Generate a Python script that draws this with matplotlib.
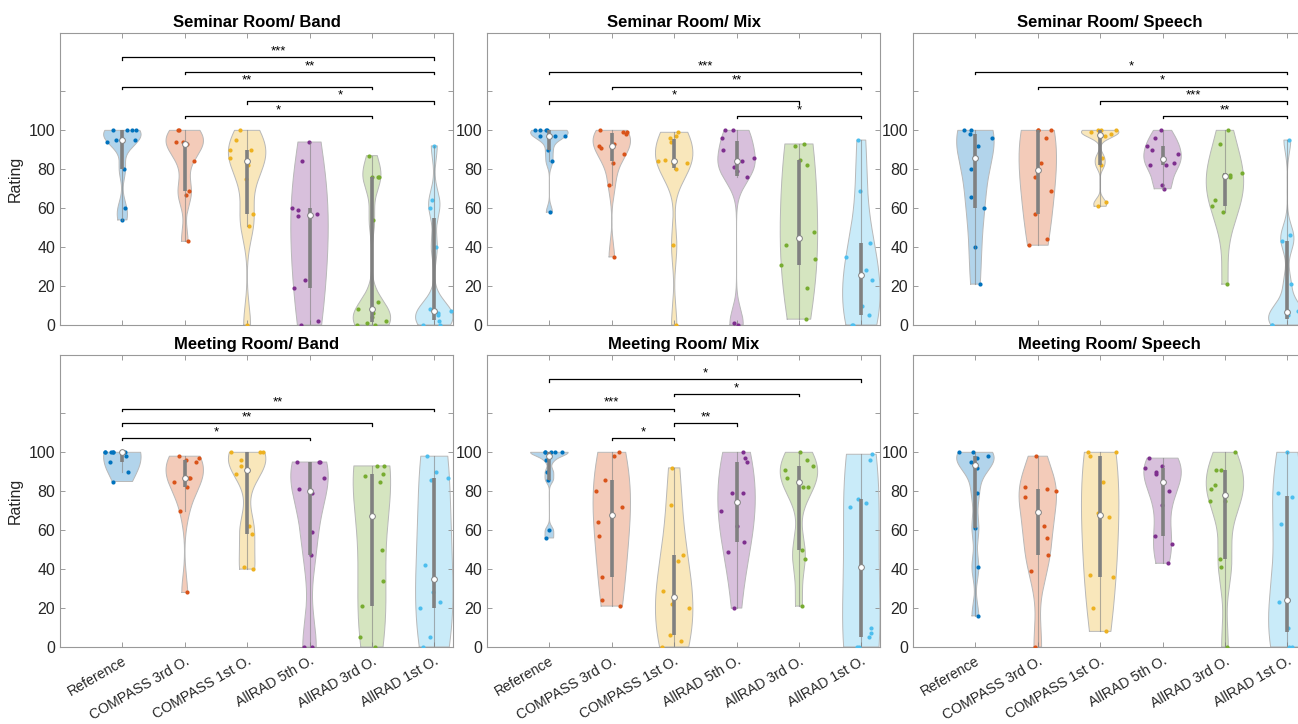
import numpy as np
import matplotlib.pyplot as plt

plt.rcParams['font.family'] = ['Liberation Sans', 'DejaVu Sans']

# group names and MATLAB default line colours
labels = ["Reference", "COMPASS 3rd O.", "COMPASS 1st O.",
          "AllRAD 5th O.", "AllRAD 3rd O.", "AllRAD 1st O."]
colors = ["#0072BD", "#D95319", "#EDB120", "#7E2F8E", "#77AC30", "#4DBEEE"]

titles = ["Seminar Room/ Band", "Seminar Room/ Mix", "Seminar Room/ Speech",
          "Meeting Room/ Band", "Meeting Room/ Mix", "Meeting Room/ Speech"]

# ratings, one list per condition
seminar_band = [
    [100, 100, 100, 100, 95, 95, 94, 80, 60, 54],
    [100, 100, 94, 94, 93, 93, 84, 69, 67, 43],
    [100, 95, 90, 90, 86, 82, 75, 57, 51, 0],
    [94, 84, 60, 59, 57, 56, 23, 19, 2, 0],
    [87, 76, 76, 76, 54, 12, 8, 6, 4, 2, 1, 0, 0],
    [92, 64, 60, 40, 8, 7, 6, 5, 2, 0, 0],
]
seminar_mix = [
    [100, 100, 100, 100, 97, 97, 97, 90, 84, 58],
    [100, 99, 99, 98, 93, 92, 91, 88, 83, 72, 35],
    [99, 97, 96, 94, 85, 84, 83, 83, 80, 41, 0],
    [100, 100, 96, 90, 86, 84, 81, 79, 76, 1, 0],
    [93, 92, 85, 82, 48, 41, 34, 31, 19, 3],
    [95, 69, 42, 35, 28, 23, 10, 5, 0, 0],
]
seminar_speech = [
    [100, 100, 98, 96, 92, 80, 66, 60, 40, 21],
    [100, 100, 100, 96, 83, 76, 69, 57, 44, 41],
    [100, 100, 100, 99, 98, 97, 86, 82, 63, 61],
    [100, 96, 92, 90, 88, 83, 82, 82, 72, 70],
    [100, 93, 78, 77, 77, 76, 64, 61, 58, 21],
    [95, 46, 43, 21, 7, 6, 5, 3, 0, 0],
]
meeting_band = [
    [100, 100, 100, 100, 100, 100, 98, 95, 90, 85],
    [98, 97, 96, 95, 87, 87, 85, 82, 70, 28],
    [100, 100, 100, 96, 93, 89, 62, 58, 41, 40],
    [95, 95, 95, 87, 81, 79, 59, 47, 0, 0],
    [93, 93, 89, 88, 85, 50, 34, 21, 5, 0],
    [98, 90, 87, 86, 42, 28, 23, 20, 5, 0],
]
meeting_mix = [
    [100, 100, 100, 100, 100, 96, 90, 86, 60, 56],
    [100, 98, 86, 80, 72, 64, 57, 36, 24, 21],
    [92, 73, 47, 44, 29, 22, 20, 6, 3, 0],
    [100, 97, 95, 79, 79, 70, 62, 54, 49, 20],
    [100, 96, 93, 91, 87, 82, 82, 50, 45, 21],
    [99, 96, 76, 74, 72, 10, 7, 5, 0, 0],
]
meeting_speech = [
    [100, 100, 98, 97, 95, 92, 79, 61, 41, 16],
    [98, 82, 81, 80, 77, 62, 56, 47, 39, 0],
    [100, 100, 98, 85, 69, 67, 37, 36, 20, 8],
    [97, 93, 92, 90, 89, 80, 73, 57, 53, 43],
    [100, 91, 91, 83, 81, 75, 75, 45, 41, 0],
    [100, 79, 77, 63, 24, 23, 10, 0, 0],
]

# significance brackets (group a, group b, stars), lowest bracket first
sig_seminar_band = [(2, 5, "*"), (3, 6, "*"), (1, 5, "**"), (2, 6, "**"), (1, 6, "***")]
sig_seminar_mix = [(4, 6, "*"), (1, 5, "*"), (2, 6, "**"), (1, 6, "***")]
sig_seminar_speech = [(4, 6, "**"), (3, 6, "***"), (2, 6, "*"), (1, 6, "*")]
sig_meeting_band = [(1, 4, "*"), (1, 5, "**"), (1, 6, "**")]
sig_meeting_mix = [(2, 3, "*"), (3, 4, "**"), (1, 3, "***"), (3, 5, "*"), (1, 6, "*")]
sig_meeting_speech = []

panels = [seminar_band, seminar_mix, seminar_speech,
          meeting_band, meeting_mix, meeting_speech]
sigs = [sig_seminar_band, sig_seminar_mix, sig_seminar_speech,
        sig_meeting_band, sig_meeting_mix, sig_meeting_speech]

rng = np.random.default_rng(7)  # only for horizontal jitter of the dots
gray = (0.5, 0.5, 0.5)


def ks_bandwidth(x):
    # same rule as MATLAB ksdensity
    sig = np.median(np.abs(x - np.median(x))) / 0.6745
    if sig <= 0:
        sig = x.max() - x.min()
    return sig * (4 / (3 * len(x))) ** 0.2


def violin(ax, pos, data, color, half_width=0.3):
    x = np.asarray(data, dtype=float)
    bw = ks_bandwidth(x)
    ys = np.linspace(x.min(), x.max(), 200)
    dens = np.exp(-0.5 * ((ys[:, None] - x[None, :]) / bw) ** 2).sum(axis=1)
    dens = dens / dens.max() * half_width

    # body
    ax.fill(np.concatenate([pos - dens, (pos + dens)[::-1]]),
            np.concatenate([ys, ys[::-1]]),
            facecolor=color, alpha=0.3, edgecolor="none", zorder=1)
    ax.plot(np.concatenate([pos - dens, (pos + dens)[::-1], [pos - dens[0]]]),
            np.concatenate([ys, ys[::-1], [ys[0]]]),
            color=(0.72, 0.72, 0.72), lw=0.7, zorder=2)

    # jittered points
    spread = np.interp(x, ys, dens)
    jit = (2 * rng.random(len(x)) - 1) * spread
    ax.scatter(pos + jit, x, s=9, color=color, linewidths=0, zorder=3)

    # whisker, box and median
    q1, med, q3 = np.percentile(x, [25, 50, 75], method="hazen")
    iqr = q3 - q1
    lo = x[x >= q1 - 1.5 * iqr].min()
    hi = x[x <= q3 + 1.5 * iqr].max()
    ax.plot([pos, pos], [lo, hi], color=gray, lw=0.8, alpha=0.6, zorder=4)
    ax.plot([pos, pos], [q1, q3], color=gray, lw=2.6, solid_capstyle="butt", zorder=4)
    ax.scatter([pos], [med], s=17, facecolor="white", edgecolor=gray,
               linewidths=0.7, zorder=5)


def bracket(ax, a, b, level, stars):
    ax.plot([a, a, b, b], [level - 1.3, level, level, level - 1.3],
            color="black", lw=0.9, zorder=6)
    ax.text((a + b) / 2, level - 0.2, stars, ha="center", va="bottom",
            fontsize=9.5, color="black")


fig = plt.figure(figsize=(12.98, 7.24), dpi=100)

lefts = [0.0462, 0.3752, 0.7034]
bottoms = [0.5511, 0.1064]
w, h = 0.3028, 0.4033

for k in range(6):
    row, col = divmod(k, 3)
    ax = fig.add_axes([lefts[col], bottoms[row], w, h])
    for i, data in enumerate(panels[k]):
        violin(ax, i + 1, data, colors[i])
    for n, (a, b, stars) in enumerate(sigs[k]):
        bracket(ax, a, b, 107.5 + 7.5 * n, stars)

    ax.set_xlim(0, 6.3)
    ax.set_ylim(0, 150)
    ax.set_xticks(range(1, 7))
    ax.set_yticks(range(0, 121, 20))
    ax.set_yticklabels(["0", "20", "40", "60", "80", "100", ""])
    if row == 1:
        ax.set_xticklabels(labels, rotation=30, ha="right",
                           rotation_mode="anchor", fontsize=10.2)
    else:
        ax.set_xticklabels([])
    ax.tick_params(direction="in", top=True, right=True, length=3.5,
                   width=0.6, color=(0.55, 0.55, 0.55),
                   labelcolor="#262626", labelsize=11.5)
    ax.tick_params(axis="x", pad=5, labelsize=10.2)
    for s in ax.spines.values():
        s.set_color((0.6, 0.6, 0.6))
        s.set_linewidth(0.8)
    ax.set_title(titles[k], fontsize=12, fontweight="bold", pad=4)
    if col == 0:
        ax.set_ylabel("Rating", fontsize=11.5, color="#262626")

fig.savefig("out.png", dpi=100)
